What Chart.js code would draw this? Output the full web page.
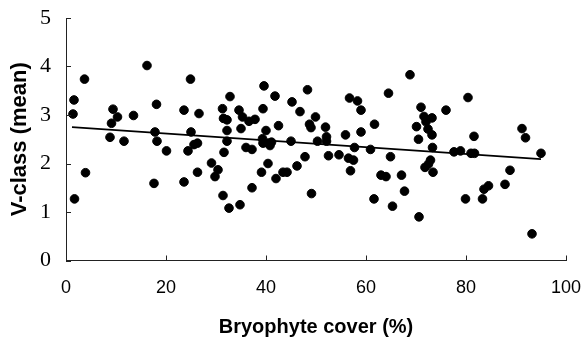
<!DOCTYPE html>
<html>
<head>
<meta charset="utf-8">
<title>V-class x Bryophyte cover</title>
<script src="https://cdn.jsdelivr.net/npm/chart.js@4.4.1/dist/chart.umd.min.js"></script>
<style>
  html, body { margin: 0; padding: 0; background: #fff; }
  #box { width: 583px; height: 339px; }
</style>
</head>
<body>
<div id="box"><canvas id="myChart"></canvas></div>
<script>
// bryophyte cover (%) of each plot
const coverPct = [
  1.6, 1.4, 3.7, 3.9, 1.7, 9.4, 10.3, 9.1, 8.8, 11.6, 13.5, 16.2, 18.1, 17.8, 18.2, 20.1, 17.6, 23.6, 23.6,
  24.9, 26.6, 25.0, 24.4, 25.6, 26.3, 26.3, 29.1, 30.4, 29.8, 31.4, 32.6, 34.8, 32.8, 31.3, 31.5, 32.2, 32.2,
  32.2, 31.6, 34.6, 35.3, 36.6, 37.8, 35.0, 36.0, 37.2, 37.2, 39.6, 39.4, 40.0, 39.3, 39.4, 40.4, 41.1, 40.8,
  40.4, 39.1, 41.8, 42.5, 42.0, 43.4, 44.2, 45.2, 45.0, 46.8, 46.2, 48.3, 47.8,
  49.9, 48.7, 49.0, 49.1, 50.3, 51.9, 52.1, 52.1, 52.5, 54.6, 55.9, 56.5, 57.5, 56.9, 56.7, 58.3, 59.0, 59.0,
  57.7, 60.9, 61.7, 61.6, 63.0, 64.0, 64.5, 64.9, 65.3, 67.1, 67.7, 68.8, 71.0, 70.1, 70.5, 70.6, 71.6,
  72.0, 73.2, 72.4, 73.2, 73.3, 72.9, 72.5, 71.8, 73.4, 76.0, 77.6, 78.9, 80.4, 81.6, 81.0, 81.7, 79.9, 83.3,
  83.6, 84.5, 87.8, 88.8, 91.2, 91.9, 93.2, 95.0
];

// mean V-class of each plot (same order)
const vClass = [
  3.31, 3.02, 3.74, 1.81, 1.27, 3.12, 2.96, 2.83, 2.54, 2.46, 2.99, 4.02, 3.22, 2.65, 2.46, 2.26, 1.59, 3.10, 1.62,
  3.74, 3.03, 2.65, 2.26, 2.39, 2.42, 1.82, 2.01, 1.87, 1.73, 1.34, 1.08, 1.15, 3.38, 3.13, 2.93, 2.90, 2.68,
  2.46, 2.23, 3.10, 2.96, 2.87, 2.91, 2.72, 2.33, 2.29, 1.50, 3.60, 3.13, 2.68, 2.51, 2.42, 2.42, 2.44, 2.37,
  2.00, 1.82, 3.39, 2.78, 1.69, 1.82, 1.82, 3.27, 2.46, 3.07, 1.95, 3.52, 2.14,
  2.96, 2.81, 2.74, 1.38, 2.46, 2.75, 2.55, 2.46, 2.16, 2.18, 2.59, 2.11, 2.07, 1.85, 3.35, 3.29, 3.10, 2.65,
  2.33, 2.29, 2.81, 1.27, 1.76, 1.73, 3.45, 2.14, 1.12, 1.76, 1.43, 3.83, 3.16, 2.76, 2.50, 0.90, 2.97,
  2.86, 2.94, 2.71, 2.59, 2.33, 2.07, 1.99, 1.92, 1.82, 3.10, 2.24, 2.26, 3.36, 2.56, 2.21, 2.21, 1.27, 1.27,
  1.47, 1.54, 1.57, 1.86, 2.72, 2.53, 0.55, 2.21
];

// ends of the regression line
const fitX = [1.2, 95.0];
const fitY = [2.75, 2.09];

const xTicks = [0, 20, 40, 60, 80, 100];
const yTicks = [0, 1, 2, 3, 4, 5];

const pontos = coverPct.map((x, i) => ({ x: x, y: vClass[i] }));
const reta = fitX.map((x, i) => ({ x: x, y: fitY[i] }));

// short tick marks pointing into the plot
const ticksDentro = {
  id: 'ticksDentro',
  afterDraw(chart) {
    const c = chart.ctx;
    const xs = chart.scales.x;
    const ys = chart.scales.y;
    const area = chart.chartArea;
    c.save();
    c.strokeStyle = '#222';
    c.lineWidth = 1;
    c.beginPath();
    xTicks.forEach((v) => {
      const px = Math.round(xs.getPixelForValue(v)) + 0.5;
      c.moveTo(px, area.bottom);
      c.lineTo(px, area.bottom - 5);
    });
    yTicks.forEach((v) => {
      const py = Math.round(ys.getPixelForValue(v)) + 0.5;
      c.moveTo(area.left, py);
      c.lineTo(area.left + 5, py);
    });
    c.stroke();
    c.restore();
  }
};

const ctx = document.getElementById('myChart').getContext('2d');

new Chart(ctx, {
  type: 'scatter',
  data: {
    datasets: [
      {
        label: 'plots',
        data: pontos,
        backgroundColor: '#000',
        borderColor: '#000',
        pointRadius: 4.3,
        pointHoverRadius: 4.3
      },
      {
        label: 'fit',
        type: 'line',
        data: reta,
        borderColor: '#000',
        borderWidth: 1.6,
        pointRadius: 0,
        fill: false
      }
    ]
  },
  plugins: [ticksDentro],
  options: {
    responsive: true,
    maintainAspectRatio: false,
    animation: false,
    layout: {
      padding: { top: 18, right: 17, bottom: 0, left: 0 }
    },
    plugins: {
      legend: { display: false },
      tooltip: { enabled: false }
    },
    scales: {
      x: {
        type: 'linear',
        min: 0,
        max: 100,
        afterBuildTicks: (s) => { s.ticks = xTicks.map((v) => ({ value: v })); },
        afterFit: (s) => {
          s.height = 78.5;
          s.paddingLeft = 0;
          s.paddingRight = 0;
        },
        grid: { display: false, drawTicks: false },
        border: { display: true, color: '#222', width: 1 },
        ticks: {
          padding: 17,
          color: '#000',
          maxRotation: 0,
          font: { family: 'Liberation Sans', size: 18 }
        },
        title: {
          display: true,
          text: 'Bryophyte cover (%)',
          color: '#000',
          padding: { top: 0, bottom: 0 },
          font: { family: 'Liberation Sans', size: 20, weight: 'bold' }
        }
      },
      y: {
        min: 0,
        max: 5,
        afterBuildTicks: (s) => { s.ticks = yTicks.map((v) => ({ value: v })); },
        afterFit: (s) => {
          s.width = 66;
          s.paddingTop = 0;
          s.paddingBottom = 0;
        },
        grid: { display: false, drawTicks: false },
        border: { display: true, color: '#222', width: 1 },
        ticks: {
          padding: 15,
          color: '#000',
          font: { family: 'Liberation Serif', size: 22 }
        },
        title: {
          display: true,
          text: 'V-class (mean)',
          color: '#000',
          padding: { top: 7, bottom: 0 },
          font: { family: 'Liberation Sans', size: 22, weight: 'bold' }
        }
      }
    }
  }
});
</script>
</body>
</html>
